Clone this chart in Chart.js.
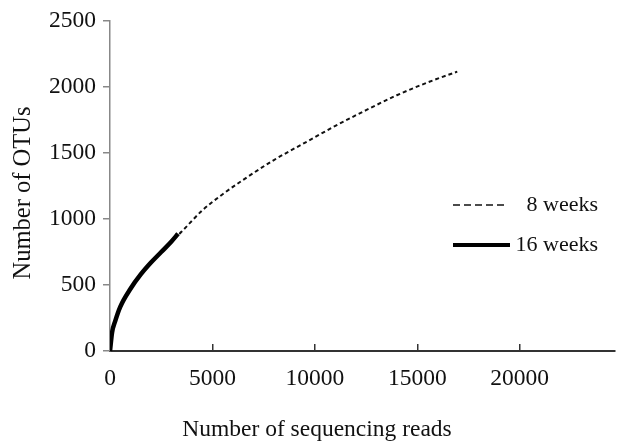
<!DOCTYPE html>
<html>
<head>
<meta charset="utf-8">
<script src="https://cdn.jsdelivr.net/npm/chart.js@4.4.1/dist/chart.umd.min.js"></script>
<style>
  html, body { margin: 0; padding: 0; background: #fff; }
  #wrap { width: 624px; height: 441px; position: relative; }
</style>
</head>
<body>
<div id="wrap"><canvas id="rareChart"></canvas></div>
<script>
// Dữ liệu đường cong
const reads8 = [0, 100, 250, 500, 1000, 1500, 2000, 2500, 3000, 3500, 4500, 5500, 6500, 8000, 9500, 11000, 12500, 14000, 15500, 16950];
const otus8  = [0, 140, 225, 335, 472, 580, 670, 750, 830, 905, 1065, 1188, 1297, 1447, 1577, 1706, 1825, 1938, 2035, 2117];
const reads16 = [0, 100, 250, 500, 1000, 1500, 2000, 2500, 3000, 3320];
const otus16  = [0, 140, 225, 335, 472, 580, 670, 750, 830, 888];

const xTicks = [0, 5000, 10000, 15000, 20000];
const yTicks = [0, 500, 1000, 1500, 2000, 2500];

const labels = ['8 weeks', '16 weeks'];
const xTitle = 'Number of sequencing reads';
const yTitle = 'Number of OTUs';

const FONT = '"Liberation Serif", "Times New Roman", serif';

const toPoints = (xs, ys) => xs.map((x, i) => ({ x: x, y: ys[i] }));

// Vẽ chú thích và tên trục
const extrasPlugin = {
    id: 'extras',
    afterDraw(chart) {
        const ctx = chart.ctx;
        ctx.save();
        ctx.fillStyle = '#111';
        ctx.textAlign = 'center';
        ctx.textBaseline = 'middle';
        ctx.font = '23.5px ' + FONT;
        ctx.fillText(xTitle, 317, 430);
        ctx.font = '24.5px ' + FONT;
        ctx.translate(24, 193);
        ctx.rotate(-Math.PI / 2);
        ctx.fillText(yTitle, 0, 0);
        ctx.restore();

        // chú thích
        const rows = [205, 245];
        const dashes = [[7, 4], []];
        const widths = [1.5, 4];
        chart.data.datasets.forEach((ds, i) => {
            const y = rows[i];
            ctx.save();
            ctx.strokeStyle = ds.borderColor;
            ctx.lineWidth = widths[i];
            ctx.setLineDash(dashes[i]);
            ctx.beginPath();
            ctx.moveTo(453, y);
            ctx.lineTo(i === 0 ? 505 : 510, y);
            ctx.stroke();
            ctx.setLineDash([]);
            ctx.fillStyle = '#111';
            ctx.font = '22px ' + FONT;
            ctx.textAlign = 'right';
            ctx.textBaseline = 'middle';
            ctx.fillText(ds.label, 598, y);
            ctx.restore();
        });
    }
};

new Chart(document.getElementById('rareChart'), {
    type: 'line',
    data: {
        datasets: [
            {
                label: labels[0],
                data: toPoints(reads8, otus8),
                borderColor: '#111',
                borderWidth: 2,
                borderDash: [4, 3],
                pointRadius: 0,
                cubicInterpolationMode: 'monotone',
                order: 1
            },
            {
                label: labels[1],
                data: toPoints(reads16, otus16),
                borderColor: '#000',
                borderWidth: 4.5,
                pointRadius: 0,
                cubicInterpolationMode: 'monotone',
                order: 0
            }
        ]
    },
    options: {
        responsive: true,
        maintainAspectRatio: false,
        animation: false,
        layout: { padding: { top: 21, right: 9, left: 0, bottom: 0 } },
        plugins: {
            legend: { display: false },
            tooltip: { enabled: false }
        },
        scales: {
            x: {
                type: 'linear',
                min: 0,
                max: 24650,
                afterBuildTicks: s => { s.ticks = xTicks.map(v => ({ value: v })); },
                afterFit: s => { s.height = 90; },
                border: { display: true, color: '#333', width: 2 },
                grid: { display: true, drawOnChartArea: false, drawTicks: true, tickLength: -7, color: '#333', lineWidth: 1.5 },
                ticks: { color: '#111', padding: 21, maxRotation: 0, font: { family: FONT, size: 23.5 }, callback: v => String(v) }
            },
            y: {
                type: 'linear',
                min: 0,
                max: 2500,
                afterBuildTicks: s => { s.ticks = yTicks.map(v => ({ value: v })); },
                afterFit: s => { s.width = 110; },
                border: { display: true, color: '#888', width: 1.5 },
                grid: { display: true, drawOnChartArea: false, drawTicks: true, tickLength: 7, color: '#888', lineWidth: 1.5 },
                ticks: { color: '#111', padding: 7, font: { family: FONT, size: 23.5 }, callback: v => String(v) }
            }
        }
    },
    plugins: [extrasPlugin]
});
</script>
</body>
</html>
